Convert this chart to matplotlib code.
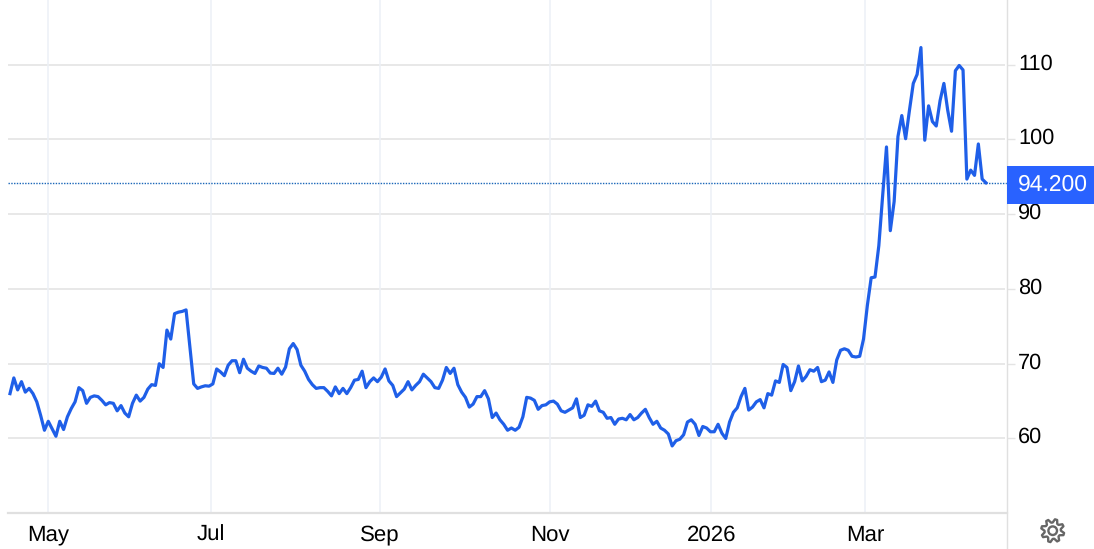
import numpy as np
import matplotlib
matplotlib.use("Agg")
import matplotlib.pyplot as plt
from matplotlib.patches import Rectangle, Polygon, Circle
from matplotlib.transforms import Affine2D

plt.rcParams["font.family"] = ["Liberation Sans", "DejaVu Sans"]
plt.rcParams["text.hinting"] = "none"

# one value per trading day
values = [
    66.0, 68.1, 66.5, 67.6, 66.2, 66.7, 66.0, 64.9, 63.1, 61.1, 62.3, 61.3, 60.3, 62.3, 61.2, 62.9,
    64.0, 64.9, 66.8, 66.4, 64.7, 65.5, 65.7, 65.6, 65.1, 64.5, 64.8, 64.7, 63.7, 64.4, 63.4, 62.9,
    64.7, 65.8, 65.0, 65.5, 66.6, 67.2, 67.1, 70.0, 69.5, 74.5, 73.3, 76.7, 76.9, 77.0, 77.2, 72.3,
    67.3, 66.7, 66.9, 67.05, 67.0, 67.3, 69.3, 68.9, 68.4, 69.8, 70.4, 70.4, 68.8, 70.6, 69.4, 69.0,
    68.7, 69.7, 69.5, 69.4, 68.75, 68.7, 69.4, 68.6, 69.55, 72.0, 72.7, 71.9, 69.8, 69.0, 67.9, 67.2,
    66.7, 66.8, 66.8, 66.3, 65.7, 66.9, 66.0, 66.7, 66.0,
    66.8, 67.8, 67.9, 69.0, 66.8, 67.6, 68.1, 67.6, 68.2, 69.3, 67.7, 67.1, 65.6, 66.1, 66.6, 67.6,
    66.5, 67.1, 67.6, 68.6, 68.1, 67.6, 66.8, 66.7, 67.8, 69.5, 68.7, 69.4, 67.2, 66.2, 65.5, 64.2,
    64.6, 65.6, 65.6, 66.4, 65.3, 62.8, 63.4, 62.5, 61.9, 61.1, 61.4, 61.1, 61.5, 62.9, 65.5, 65.4,
    65.1, 63.9, 64.4, 64.5, 64.9, 65.0, 64.6, 63.7, 63.5, 63.8, 64.1, 65.3, 62.8, 63.1, 64.5, 64.3,
    65.0, 63.7, 63.5, 62.7, 62.8, 61.9, 62.6, 62.7, 62.5, 63.2, 62.5, 62.8, 63.4, 63.9, 62.8, 61.9,
    62.3, 61.4, 61.1, 60.6, 59.0, 59.7, 59.9, 60.5, 62.2, 62.5, 61.9, 60.4,
    61.6, 61.4, 60.9, 60.9, 61.9, 60.7, 60.0, 62.2, 63.5, 64.1, 65.6, 66.7, 63.8, 64.2, 64.9, 65.2,
    64.1, 66.0, 65.8, 67.7, 67.5, 69.9, 69.5, 66.4, 67.6, 69.7, 67.7, 68.3, 69.2, 69.0, 69.5, 67.6,
    67.8, 68.9, 67.5, 70.5, 71.8, 72.0, 71.8, 71.0, 70.9, 71.0, 73.3, 77.8, 81.5, 81.6, 85.8, 92.5,
    99.0, 87.8, 91.7, 100.4, 103.2, 100.1, 103.9, 107.5, 108.7, 112.3, 99.9, 104.5, 102.4, 101.8, 105.2, 107.5,
    103.9, 101.1, 109.2, 109.9, 109.3, 94.7, 95.9, 95.2, 99.4, 94.7, 94.2,
]
last_value = 94.2
month_labels = ["May", "Jul", "Sep", "Nov", "2026", "Mar"]
month_idx = [10.05, 52.6, 96.65, 141.1, 183.2, 223.5]
y_ticks = [60, 70, 80, 90, 100, 110]

W, H = 1094, 549
BLUE = "#1f5fe8"

fig = plt.figure(figsize=(W / 100, H / 100), dpi=100)
ax = fig.add_axes([8 / W, (H - 513) / H, 999 / W, 513 / H])

n = len(values)
step = 976 / (n - 1)
ax.set_xlim(-2 / step, 997 / step)
ax.set_ylim(50.03, 118.66)

ax.set_axisbelow(True)
ax.hlines(y_ticks, -2 / step, 995 / step, color="#e4e4e4", lw=1.2, zorder=1)
ax.vlines(month_idx, 50.03, 118.66, color="#ecf0f6", lw=1.1, zorder=1)
ax.plot(range(n), values, color=BLUE, lw=2.3, solid_joinstyle="round", zorder=3)
ax.axhline(last_value, color="#1a66b8", lw=1.0, ls=(0, (1, 1)), zorder=2)

for s in ("top", "left", "right"):
    ax.spines[s].set_visible(False)
ax.spines["bottom"].set_color("#e0e0e0")
ax.spines["bottom"].set_linewidth(1.6)

ax.set_xticks(month_idx)
ax.set_xticklabels(month_labels, fontsize=16, color="#000000", va="baseline")
ax.tick_params(axis="x", length=0, pad=20)
ax.yaxis.tick_right()
ax.set_yticks(y_ticks)
ax.set_yticklabels([str(v) for v in y_ticks], fontsize=15.7, color="#000000", va="center")
ax.tick_params(axis="y", length=5.5, width=1, color="#e4e4e4", pad=2.5)
for lab in ax.get_yticklabels():
    lab.set_transform(lab.get_transform() + Affine2D().translate(0, 1))

# everything below is placed in figure pixels, y from the top
px = Affine2D().scale(1, -1).translate(0, H)

fig.add_artist(plt.Line2D([1006.5, 1006.5], [0, 548], transform=px, color="#e0e0e0", lw=1.0))
fig.add_artist(Rectangle((1007, 166), 87, 38, transform=px, color="#2962ff", lw=0, zorder=5))
fig.text(1052.5, 185, "94.200", transform=px, color="white", fontsize=16.5, ha="center", va="center", zorder=6)

# settings gear
cx, cy, teeth = 1052.7, 530.7, 8
ang = np.linspace(0, 2 * np.pi, teeth * 4, endpoint=False) + np.pi / teeth / 2
rad = np.tile([11.6, 11.6, 8.2, 8.2], teeth)
gear = np.column_stack([cx + rad * np.cos(ang), cy + rad * np.sin(ang)])
fig.add_artist(Polygon(gear, closed=True, transform=px, fill=False, ec="#666666", lw=1.7, joinstyle="round"))
fig.add_artist(Circle((cx, cy), 4.3, transform=px, fill=False, ec="#666666", lw=1.7))

fig.savefig("out.png", dpi=100)
